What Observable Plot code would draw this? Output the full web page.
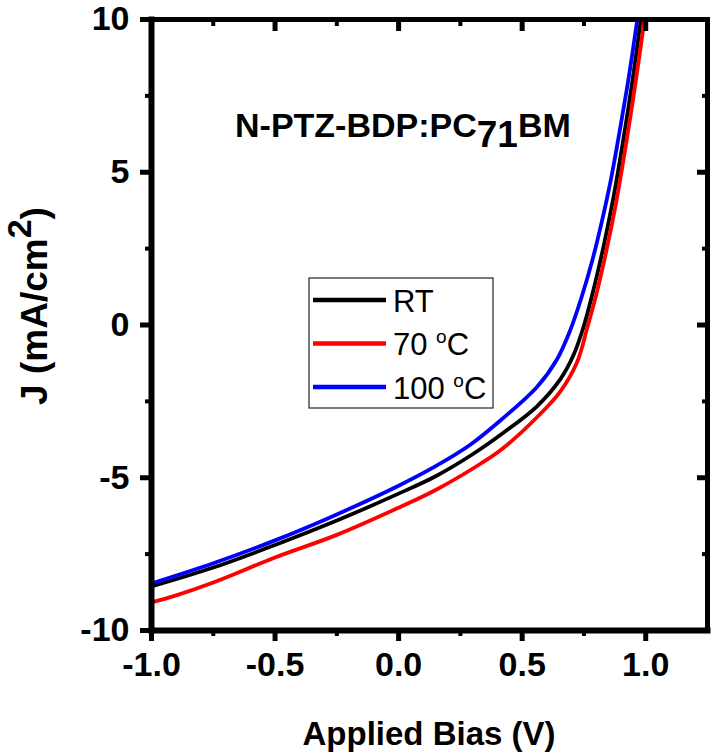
<!DOCTYPE html>
<html><head><meta charset="utf-8">
<script src="https://cdn.jsdelivr.net/npm/d3@7"></script>
<script src="https://cdn.jsdelivr.net/npm/@observablehq/plot@0.6"></script>
<style>body{margin:0;background:#fff}</style>
</head><body><div id="chart"></div>
<script>
// Series data: applied bias (V) and current density J (mA/cm^2)
const rtV  = [-1, -0.75, -0.5, -0.25, 0, 0.15, 0.29, 0.42, 0.56, 0.654, 0.707, 0.747, 0.79, 0.83, 0.87, 0.91, 0.95, 0.98];
const rtJ  = [-8.56, -7.94, -7.2, -6.4, -5.52, -4.95, -4.28, -3.55, -2.66, -1.78, -1.0, -0.1, 1.2, 2.6, 4.2, 6.1, 8.2, 10];
const t70V = [-1, -0.9, -0.75, -0.5, -0.25, 0, 0.15, 0.33, 0.42, 0.56, 0.654, 0.723, 0.763, 0.8, 0.84, 0.88, 0.92, 0.96, 0.995];
const t70J = [-9.08, -8.85, -8.43, -7.61, -6.87, -5.98, -5.4, -4.55, -4.05, -3.02, -2.18, -1.2, -0.1, 1.0, 2.4, 4.0, 5.9, 8.0, 10];
const t100V = [-1, -0.75, -0.5, -0.25, 0, 0.15, 0.29, 0.42, 0.56, 0.64, 0.695, 0.74, 0.784, 0.82, 0.86, 0.9, 0.935, 0.966];
const t100J = [-8.46, -7.8, -7.05, -6.2, -5.26, -4.62, -3.92, -3.07, -2.03, -1.14, -0.16, 0.9, 2.12, 3.3, 4.8, 6.6, 8.3, 10];

const seriesKeys   = ["RT", "70 oC", "100 oC"];
const seriesColors = ["#000000", "#ff0000", "#0000ff"];
const legendMain = ["RT", "70 ", "100 "];
const legendSup  = ["", "o", "o"];
const legendTail = ["", "C", "C"];

const xMajor = [-1, -0.5, 0, 0.5, 1];
const xMinor = [-0.75, -0.25, 0.25, 0.75];
const yMajor = [-10, -5, 0, 5, 10];
const yMinor = [-7.5, -2.5, 2.5, 7.5];
const xTickLabels = ["-1.0", "-0.5", "0.0", "0.5", "1.0"];
const yTickLabels = ["-10", "-5", "0", "5", "10"];

const toRows = (vs, js, key) => vs.map((v, i) => ({V: v, J: js[i], series: key}));
const rtRows = toRows(rtV, rtJ, seriesKeys[0]);
const r70Rows = toRows(t70V, t70J, seriesKeys[1]);
const r100Rows = toRows(t100V, t100J, seriesKeys[2]);

const FONT = "'Liberation Sans', Arial, Helvetica, sans-serif";
const axisCommon = {fontSize: 34, fontWeight: "bold", fontFamily: FONT, label: null};

const plot = Plot.plot({
  width: 713, height: 756,
  marginLeft: 151, marginRight: 6, marginTop: 19, marginBottom: 126,
  x: {domain: [-1, 1.25]},
  y: {domain: [-10, 10]},
  color: {domain: seriesKeys, range: seriesColors},
  style: {fontFamily: FONT, fontWeight: "bold", fontSize: "34px", color: "#000", background: "#fff", overflow: "visible"},
  marks: [
    Plot.line(rtRows, {x: "V", y: "J", stroke: "series", strokeWidth: 3.8, curve: "catmull-rom"}),
    Plot.line(r100Rows, {x: "V", y: "J", stroke: "series", strokeWidth: 3.8, curve: "catmull-rom"}),
    Plot.line(r70Rows, {x: "V", y: "J", stroke: "series", strokeWidth: 3.8, curve: "catmull-rom"}),
    // bottom axis
    Plot.axisX(xMajor, {...axisCommon, anchor: "bottom", tickSize: 11, tickPadding: 10, strokeWidth: 5,
      tickFormat: d => xTickLabels[xMajor.indexOf(d)]}),
    Plot.axisX(xMinor, {anchor: "bottom", tickSize: 6, strokeWidth: 4, fill: "none", label: null}),
    // left axis
    Plot.axisY(yMajor, {...axisCommon, anchor: "left", tickSize: 11, tickPadding: 11, strokeWidth: 5,
      tickFormat: d => yTickLabels[yMajor.indexOf(d)]}),
    Plot.axisY(yMinor, {anchor: "left", tickSize: 6, strokeWidth: 4, fill: "none", label: null}),
    // top axis (inward ticks)
    Plot.axisX(xMajor, {anchor: "top", tickSize: -11, strokeWidth: 5, fill: "none", label: null}),
    Plot.axisX(xMinor, {anchor: "top", tickSize: -6, strokeWidth: 4, fill: "none", label: null}),
    // right axis (inward ticks)
    Plot.axisY(yMajor, {anchor: "right", tickSize: -11, strokeWidth: 5, fill: "none", label: null}),
    Plot.axisY(yMinor, {anchor: "right", tickSize: -6, strokeWidth: 4, fill: "none", label: null}),
    Plot.frame({anchor: "left", strokeWidth: 6, strokeLinecap: "square"}),
    Plot.frame({anchor: "bottom", strokeWidth: 6, strokeLinecap: "square"}),
    Plot.frame({anchor: "top", strokeWidth: 5, strokeLinecap: "square"}),
    Plot.frame({anchor: "right", strokeWidth: 5, strokeLinecap: "square"})
  ]
});

document.getElementById("chart").appendChild(plot);
const svg = d3.select(plot);
const xs = plot.scale("x"), ys = plot.scale("y");

// enforce tick label font on all Plot-generated texts (tick labels only)
svg.selectAll("text")
  .attr("font-size", 34).attr("font-weight", "bold")
  .style("font-size", "34px").style("font-weight", "bold").style("font-family", FONT);
svg.selectAll("g").filter(function() { return this.getAttribute("font-size"); })
  .attr("font-size", 34);

// Annotation
const ann = svg.append("text")
  .attr("x", xs.apply(-0.66)).attr("y", ys.apply(6.14))
  .attr("text-anchor", "start")
  .style("font", `bold 34px ${FONT}`).attr("fill", "#000");
ann.append("tspan").text("N-PTZ-BDP:PC");
ann.append("tspan").attr("dy", 10).style("font-size", "37px").text("71");
ann.append("tspan").attr("dy", -10).text("BM");

// X axis title
svg.append("text")
  .attr("x", (xs.apply(-1) + xs.apply(1.25)) / 2).attr("y", 745)
  .attr("text-anchor", "middle")
  .style("font", `bold 33px ${FONT}`).attr("fill", "#000")
  .text("Applied Bias (V)");

// Y axis title
const yt = svg.append("text")
  .attr("transform", "translate(47,306) rotate(-90)")
  .attr("text-anchor", "middle")
  .style("font", `bold 37px ${FONT}`).attr("fill", "#000");
yt.append("tspan").text("J (mA/cm");
yt.append("tspan").attr("dy", -16).style("font-size", "34px").text("2");
yt.append("tspan").attr("dy", 16).text(")");

// Legend
const lg = svg.append("g").attr("text-anchor", "start");
lg.append("rect").attr("x", 309).attr("y", 278).attr("width", 184).attr("height", 130)
  .attr("fill", "#fff").attr("stroke", "#222").attr("stroke-width", 1.2);
seriesKeys.forEach((k, i) => {
  const cy = 300 + i * 43.5;
  lg.append("line").attr("x1", 313).attr("x2", 386).attr("y1", cy).attr("y2", cy)
    .attr("stroke", seriesColors[i]).attr("stroke-width", 4.5);
  const t = lg.append("text").attr("x", 393).attr("y", cy + 11.5)
    .attr("text-anchor", "start")
    .style("font", `31px ${FONT}`).attr("fill", "#000");
  t.append("tspan").text(legendMain[i]);
  if (legendSup[i]) {
    t.append("tspan").attr("dy", -12).style("font-size", "19px").text(legendSup[i]);
    t.append("tspan").attr("dy", 12).text(legendTail[i]);
  }
});
</script>
</body></html>
